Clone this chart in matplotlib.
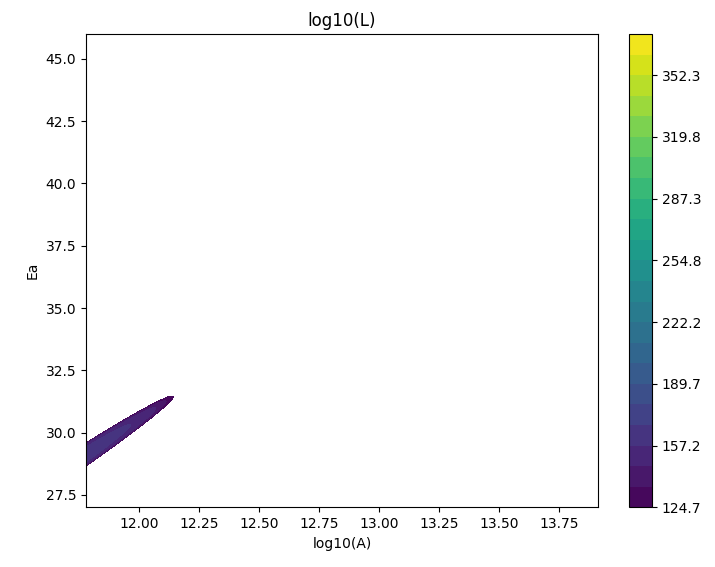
import numpy as np
import matplotlib
matplotlib.use("Agg")
import matplotlib.pyplot as plt

# grid extent of the scan
logA_range = [11.78, 13.91]
Ea_range = [27.0, 46.0]

# likelihood surface: peak value, peak location, widths and the Ea/logA tilt
peak_logL = 160.0
peak_drop = 35.5
peak_logA = 11.493
peak_Ea = 27.29
width_logA = 0.65
width_Ea = 0.52
tilt = 6.38

# contour levels shown on the colour bar
level_min = 124.67
level_max = 374.0
n_levels = 24

logA = np.linspace(logA_range[0], logA_range[1], 700)
Ea = np.linspace(Ea_range[0], Ea_range[1], 700)
X, Y = np.meshgrid(logA, Ea)

u = (X - peak_logA) / width_logA
v = (Y - peak_Ea - tilt * (X - peak_logA)) / width_Ea
q2 = u**2 + v**2
logL = peak_logL - peak_drop * q2**4

levels = np.linspace(level_min, level_max, n_levels)

fig = plt.figure(figsize=(7.15, 5.67), dpi=100)
ax = fig.add_axes([0.1203, 0.1053, 0.7157, 0.8347])
cax = fig.add_axes([0.8797, 0.1053, 0.0322, 0.8347])

cs = ax.contourf(X, Y, logL, levels=levels, cmap="viridis")
ax.set_xlabel("log10(A)")
ax.set_ylabel("Ea")
ax.set_title("log10(L)")
fig.colorbar(cs, cax=cax, format="%.1f")

fig.savefig("out.png", dpi=100)
